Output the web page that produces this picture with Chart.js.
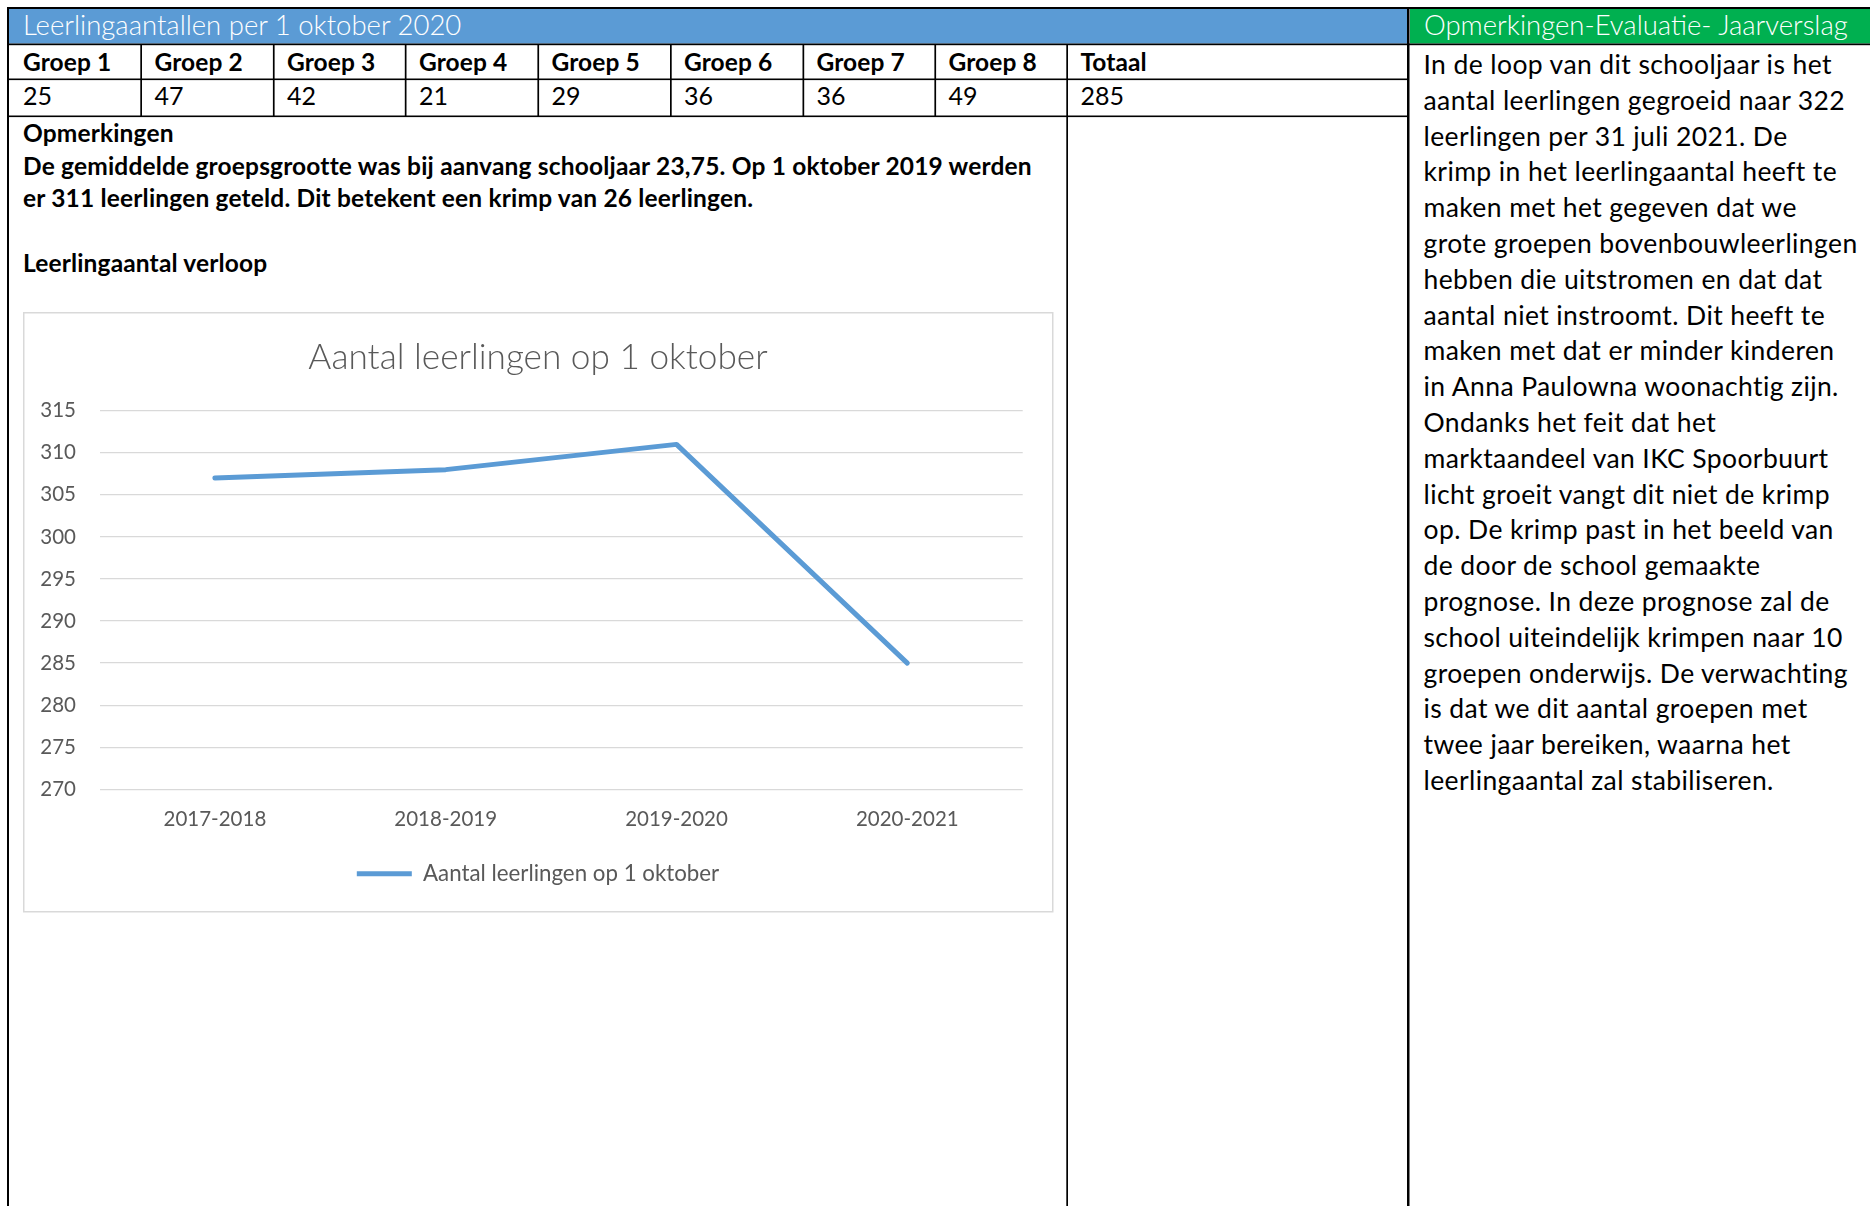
<!DOCTYPE html>
<html><head><meta charset="utf-8">
<script src="https://cdn.jsdelivr.net/npm/chart.js@4.4.1/dist/chart.umd.min.js"></script>
<style>
html,body{margin:0;padding:0;background:#fff;}
body{width:1870px;height:1206px;position:relative;overflow:hidden;font-family:Lato,sans-serif;}
#doc{position:absolute;left:0;top:0;}
#chartWrap{position:absolute;left:23px;top:312px;width:1030px;height:600px;}
</style></head>
<body>
<svg id="doc" width="1870" height="1206" xmlns="http://www.w3.org/2000/svg"></svg>
<div id="chartWrap"><canvas id="c" width="1030" height="600"></canvas></div>
<script>
// ---- data ----
const groepLabels = ['Groep 1','Groep 2','Groep 3','Groep 4','Groep 5','Groep 6','Groep 7','Groep 8','Totaal'];
const groepValues = [25, 47, 42, 21, 29, 36, 36, 49, 285];
const categories = ['2017-2018','2018-2019','2019-2020','2020-2021'];
const leerlingen = [307, 308, 311, 285];
const yMin = 270, yMax = 315, yStep = 5;
const chartTitle = 'Aantal leerlingen op 1 oktober';
const seriesLabel = 'Aantal leerlingen op 1 oktober';
const headerLeft = 'Leerlingaantallen per 1 oktober 2020';
const headerRight = 'Opmerkingen-Evaluatie- Jaarverslag';
const opmTitle = 'Opmerkingen';
const opmLines = ['De gemiddelde groepsgrootte was bij aanvang schooljaar 23,75. Op 1 oktober 2019 werden',
                  'er 311 leerlingen geteld. Dit betekent een krimp van 26 leerlingen.'];
const verloopTitle = 'Leerlingaantal verloop';
const rightLines = [
 'In de loop van dit schooljaar is het',
 'aantal leerlingen gegroeid naar 322',
 'leerlingen per 31 juli 2021.  De',
 'krimp in het leerlingaantal heeft te',
 'maken met het gegeven dat we',
 'grote groepen bovenbouwleerlingen',
 'hebben die uitstromen en dat dat',
 'aantal niet instroomt. Dit heeft te',
 'maken met dat er minder kinderen',
 'in Anna Paulowna woonachtig zijn.',
 'Ondanks het feit dat het',
 'marktaandeel van IKC Spoorbuurt',
 'licht groeit vangt dit niet de krimp',
 'op. De krimp past in het beeld van',
 'de door de school gemaakte',
 'prognose. In deze prognose zal de',
 'school uiteindelijk krimpen naar 10',
 'groepen onderwijs. De verwachting',
 'is dat we dit aantal groepen met',
 'twee jaar bereiken, waarna het',
 'leerlingaantal zal stabiliseren.'
];

// ---- document frame (SVG) ----
const NS = 'http://www.w3.org/2000/svg';
const svg = document.getElementById('doc');
function rect(x,y,w,h,fill,stroke,sw){const r=document.createElementNS(NS,'rect');r.setAttribute('x',x);r.setAttribute('y',y);r.setAttribute('width',w);r.setAttribute('height',h);r.setAttribute('fill',fill||'none');if(stroke){r.setAttribute('stroke',stroke);r.setAttribute('stroke-width',sw);}svg.appendChild(r);return r;}
function text(x,y,s,size,weight,fill,ls){const t=document.createElementNS(NS,'text');t.setAttribute('x',x);t.setAttribute('y',y);t.setAttribute('font-family','Lato');t.setAttribute('font-size',size);t.setAttribute('font-weight',weight||400);t.setAttribute('fill',fill||'#000');if(ls)t.setAttribute('letter-spacing',ls);t.setAttribute('xml:space','preserve');t.textContent=s;svg.appendChild(t);return t;}

rect(9,9,1398,34.5,'#5B9BD5');
rect(1410,9,460,34.5,'#00B050');
rect(7,7,1863,2,'#000');
rect(7,7,2,1199,'#000');
rect(1407,7,2.5,1199,'#000');
rect(7,43.5,1863,1.7,'#000');
rect(7,78.5,1401,1.6,'#000');
rect(7,115.5,1401,1.6,'#000');
const colX = [140.3,272.9,404.8,537.4,670,802.5,934.4];
colX.forEach(x=>rect(x,44,1.7,73,'#000'));
rect(1066.3,44,1.7,1162,'#000');
// chart frame
rect(23.75,312.75,1029,599,null,'#D9D9D9',1.5);

text(23,35,headerLeft,27.5,300,'#fff');
text(1424,35,headerRight,27.5,300,'#fff');
const textX = [23,154.5,287,419,551.5,684,816.5,948.5,1080.5];
groepLabels.forEach((s,i)=>text(textX[i],71,s,24.5,700,'#000',0.1));
groepValues.forEach((v,i)=>text(textX[i],105,String(v),25,400));
text(23,142,opmTitle,24.5,700,'#000',0.15);
opmLines.forEach((s,i)=>text(23,174.5+i*32.5,s,24.5,700,'#000',0.18));
text(23,271.5,verloopTitle,24.5,700,'#000',0.15);
rightLines.forEach((s,i)=>text(1423.5,74+i*35.8,s,26.5,400,'#000',0.4));

// ---- chart ----
const chart = new Chart(document.getElementById('c'), {
  type:'line',
  data:{labels:categories, datasets:[{
    label:seriesLabel, data:leerlingen, yAxisID:'y',
    borderColor:'#5B9BD5', backgroundColor:'#5B9BD5', borderWidth:5,
    pointRadius:0, pointHoverRadius:0, pointStyle:'line',
    borderCapStyle:'round', borderJoinStyle:'round', tension:0, fill:false
  }]},
  options:{
    responsive:false, animation:false, devicePixelRatio:1,
    layout:{padding:{left:0,right:0,top:0,bottom:17.2}},
    plugins:{
      title:{display:true,text:chartTitle,color:'#595959',font:{family:'Lato',size:35.2,weight:'300'},padding:{top:24.3,bottom:32.2}},
      legend:{position:'bottom',labels:{usePointStyle:true,pointStyleWidth:55,color:'#595959',font:{family:'Lato',size:22.3},padding:10}},
      tooltip:{enabled:false}
    },
    scales:{
      x:{offset:true,grid:{display:false,drawTicks:false},border:{display:false},
         ticks:{color:'#595959',font:{family:'Lato',size:20.5},padding:18},
         afterFit(s){s.height=63.2;}},
      y:{min:yMin,max:yMax,
         ticks:{stepSize:yStep,color:'#595959',font:{family:'Lato',size:20.5},padding:23.5},
         grid:{color:'#D9D9D9',lineWidth:1.3,drawTicks:false},border:{display:false},
         afterFit(s){s.width=76.5;}},
      yRight:{type:'linear',position:'right',min:yMin,max:yMax,
         grid:{display:false,drawTicks:false},border:{display:false},
         ticks:{display:false},
         afterFit(s){s.width=30.3;}}
    }
  }
});
</script>
</body></html>
